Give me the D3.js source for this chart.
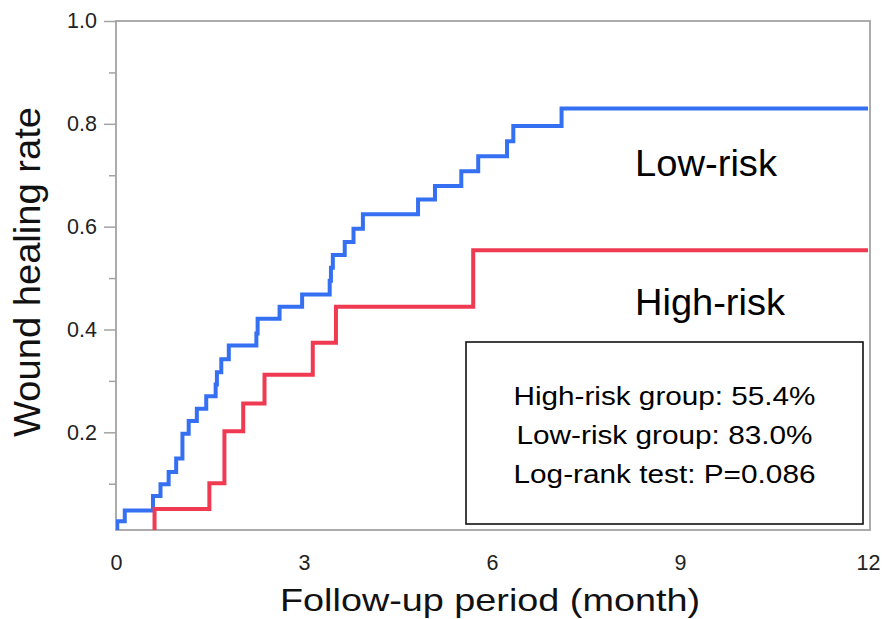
<!DOCTYPE html>
<html>
<head>
<meta charset="utf-8">
<script src="https://cdn.jsdelivr.net/npm/d3@7"></script>
<style>
  html, body { margin: 0; padding: 0; background: #fff; }
  svg { display: block; }
  text { font-family: Arial, "Liberation Sans", Helvetica, sans-serif; }
</style>
</head>
<body>
<svg id="chart" width="882" height="619"></svg>
<script>
// ---- data ----
const lowTime = [0, 0.02, 0.14, 0.59, 0.71, 0.84, 0.96, 1.06, 1.16, 1.29, 1.44, 1.59, 1.61, 1.68, 1.80, 2.24, 2.26, 2.61, 2.97, 3.41, 3.43, 3.46, 3.65, 3.79, 3.94, 4.82, 5.09, 5.51, 5.78, 6.24, 6.34, 7.11, 12];
const lowRate = [0, 0.027, 0.048, 0.076, 0.099, 0.123, 0.149, 0.197, 0.222, 0.246, 0.270, 0.293, 0.317, 0.342, 0.369, 0.392, 0.421, 0.444, 0.468, 0.495, 0.520, 0.545, 0.570, 0.596, 0.624, 0.653, 0.679, 0.708, 0.737, 0.766, 0.796, 0.830, 0.830];
const highTime = [0, 0.615, 1.49, 1.73, 2.03, 2.37, 3.14, 3.51, 5.70, 12];
const highRate = [0, 0.051, 0.101, 0.202, 0.256, 0.312, 0.374, 0.444, 0.554, 0.554];
const xTicks = [0, 3, 6, 9, 12];
const yTicks = [0.2, 0.4, 0.6, 0.8, 1.0];
const yMinorTicks = [0.1, 0.3, 0.5, 0.7, 0.9];
const seriesNames = ["Low-risk", "High-risk"];
const statLines = ["High-risk group: 55.4%", "Low-risk group: 83.0%", "Log-rank test: P=0.086"];
const xTitle = "Follow-up period (month)";
const yTitle = "Wound healing rate";

// ---- layout ----
const svg = d3.select("#chart");
const pLeft = 116, pRight = 868, pTop = 21, pBottom = 530;
const x = d3.scaleLinear().domain([0, 12]).range([pLeft, pRight]);
const y = d3.scaleLinear().domain([0.01, 1.0]).range([pBottom, pTop]);
const frameColor = "#a3a3a3";
const blue = "#3570f2";
const red = "#f03a52";

// clip
svg.append("defs").append("clipPath").attr("id", "plotClip")
  .append("rect").attr("x", pLeft).attr("y", pTop)
  .attr("width", pRight + 2 - pLeft).attr("height", pBottom - pTop);

// y axis major
const yAxis = svg.append("g").attr("transform", `translate(${pLeft},0)`)
  .call(d3.axisLeft(y).tickValues(yTicks).tickFormat(d3.format(".1f")).tickSize(12).tickPadding(7));
yAxis.select(".domain").remove();
yAxis.selectAll("line").attr("stroke", frameColor).attr("stroke-width", 1.5);
yAxis.selectAll("text").attr("font-size", 21.5).attr("fill", "#222")
  .attr("font-family", "Arial, 'Liberation Sans', sans-serif");

// y axis minor
const yMinor = svg.append("g").attr("transform", `translate(${pLeft},0)`)
  .call(d3.axisLeft(y).tickValues(yMinorTicks).tickFormat("").tickSize(7));
yMinor.select(".domain").remove();
yMinor.selectAll("line").attr("stroke", frameColor).attr("stroke-width", 1.5);

// x axis labels
const xAxis = svg.append("g").attr("transform", `translate(0,${pBottom})`)
  .call(d3.axisBottom(x).tickValues(xTicks).tickFormat(d3.format("d")).tickSize(0).tickPadding(25));
xAxis.select(".domain").remove();
xAxis.selectAll("text").attr("font-size", 21.5).attr("fill", "#222")
  .attr("font-family", "Arial, 'Liberation Sans', sans-serif");

// frame
svg.append("rect").attr("x", pLeft).attr("y", pTop)
  .attr("width", pRight + 2 - pLeft).attr("height", pBottom - pTop)
  .attr("fill", "none").attr("stroke", frameColor).attr("stroke-width", 1.8);

// curves
const line = d3.line().curve(d3.curveStepAfter).x(d => x(d[0])).y(d => y(d[1]));
const plot = svg.append("g").attr("clip-path", "url(#plotClip)");
const series = [
  { t: lowTime, v: lowRate, color: blue },
  { t: highTime, v: highRate, color: red }
];
plot.selectAll("path.km").data(series).enter().append("path")
  .attr("class", "km")
  .attr("d", s => line(s.t.map((t, i) => [t, s.v[i]])))
  .attr("fill", "none").attr("stroke", s => s.color)
  .attr("stroke-width", 4).attr("stroke-linejoin", "miter");

// series labels
svg.append("text").attr("x", 635).attr("y", 176).attr("font-size", 36)
  .attr("textLength", 142).attr("lengthAdjust", "spacingAndGlyphs")
  .attr("fill", "#000").text(seriesNames[0]);
svg.append("text").attr("x", 635).attr("y", 315).attr("font-size", 36)
  .attr("textLength", 150).attr("lengthAdjust", "spacingAndGlyphs")
  .attr("fill", "#000").text(seriesNames[1]);

// stats box
svg.append("rect").attr("x", 466).attr("y", 342).attr("width", 397).attr("height", 182)
  .attr("fill", "#fff").attr("stroke", "#111").attr("stroke-width", 1.6);
const statLen = [302, 296, 302];
svg.selectAll("text.stat").data(statLines).enter().append("text")
  .attr("class", "stat")
  .attr("x", 664.5).attr("y", (d, i) => 405 + i * 39)
  .attr("text-anchor", "middle").attr("font-size", 26)
  .attr("textLength", (d, i) => statLen[i]).attr("lengthAdjust", "spacingAndGlyphs")
  .attr("fill", "#000").text(d => d);

// axis titles
svg.append("text").attr("x", 490).attr("y", 611).attr("text-anchor", "middle")
  .attr("font-size", 32).attr("textLength", 420).attr("lengthAdjust", "spacingAndGlyphs")
  .attr("fill", "#111").text(xTitle);
svg.append("text").attr("transform", "translate(40,272) rotate(-90)")
  .attr("text-anchor", "middle").attr("font-size", 37)
  .attr("textLength", 330).attr("lengthAdjust", "spacingAndGlyphs")
  .attr("fill", "#111").text(yTitle);
</script>
</body>
</html>
